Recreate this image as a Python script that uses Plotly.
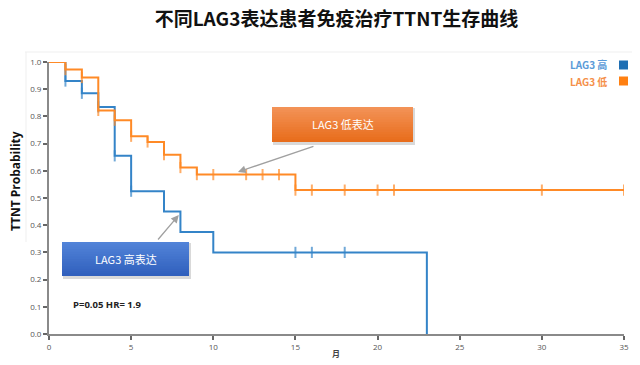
import plotly.graph_objects as go

# ---- data ----
months_high = [0, 1, 2, 3, 4, 5, 7, 8, 10, 15, 16, 18, 23]
surv_high = [1.0, 0.93, 0.885, 0.835, 0.655, 0.525, 0.45, 0.375, 0.30, 0.30, 0.30, 0.30, 0.0]
mark_high = [0, 1, 1, 1, 1, 1, 0, 0, 0, 1, 1, 1, 0]

months_low = [0, 1, 2, 3, 4, 5, 6, 7, 8, 9, 10, 12, 13, 14, 15, 16, 18, 20, 21, 30, 35]
surv_low = [1.0, 0.972, 0.943, 0.822, 0.786, 0.727, 0.706, 0.659, 0.612, 0.586, 0.586,
            0.586, 0.586, 0.586, 0.529, 0.529, 0.529, 0.529, 0.529, 0.529, 0.529]
mark_low = [0] + [1] * 20

x_ticks = [0, 5, 10, 15, 20, 25, 30, 35]
y_ticks = [0.0, 0.1, 0.2, 0.3, 0.4, 0.5, 0.6, 0.7, 0.8, 0.9, 1.0]

name_high = "LAG3 高"
name_low = "LAG3 低"
title_text = "不同LAG3表达患者免疫治疗TTNT生存曲线"
stat_text = "P=0.05 HR= 1.9"

BLUE = "#3484c8"
ORANGE = "#ff8a26"
FONT = "Noto Sans CJK SC"

fig = go.Figure()
for xs, ys, ms, col, nm in [(months_high, surv_high, mark_high, BLUE, name_high),
                             (months_low, surv_low, mark_low, ORANGE, name_low)]:
    fig.add_trace(go.Scatter(
        x=xs, y=ys, mode="lines+markers", name=nm, line_shape="hv",
        line=dict(color=col, width=2),
        marker=dict(symbol="line-ns-open", size=[8 if m else 0 for m in ms],
                    line=dict(color=col, width=2), color=col),
        hoverinfo="skip", showlegend=False))

# page offset (default body margin) compensation
OFF = 8
W, H = 640 - OFF, 365 - OFF
# plot area in screenshot pixels: x 49..624, y 62..334
SL, SR, ST, SB = 49, 624, 62, 334
PW, PH = SR - SL, SB - ST
def px(x):
    return (x - SL) / PW
def py(y):
    return (SB - y) / PH

shapes = []
annotations = []

def note(x, y, text, font, xanchor="center", yanchor="middle", **kw):
    annotations.append(dict(xref="paper", yref="paper", x=px(x), y=py(y), text=text,
                            showarrow=False, xanchor=xanchor, yanchor=yanchor,
                            font=font, **kw))

def hexmix(c1, c2, t):
    a = [int(c1[i:i + 2], 16) for i in (1, 3, 5)]
    b = [int(c2[i:i + 2], 16) for i in (1, 3, 5)]
    return "#%02x%02x%02x" % tuple(round(a[k] + (b[k] - a[k]) * t) for k in range(3))

def gradient_box(x0, y0, x1, y1, ctop, cbot, text):
    shapes.append(dict(type="rect", xref="paper", yref="paper",
                       x0=px(x0 + 1), x1=px(x1 + 2), y0=py(y1 + 3), y1=py(y0 + 1),
                       fillcolor="rgba(0,0,0,0.15)", line=dict(width=0), layer="above"))
    n = 14
    for i in range(n):
        ya = y0 + (y1 - y0) * i / n
        shapes.append(dict(type="rect", xref="paper", yref="paper",
                           x0=px(x0), x1=px(x1), y0=py(y1), y1=py(ya),
                           fillcolor=hexmix(ctop, cbot, i / (n - 1)),
                           line=dict(width=0), layer="above"))
    note((x0 + x1) / 2, (y0 + y1) / 2, text, dict(family=FONT, size=11, color="white"))

gradient_box(272, 107, 413, 142, "#f39256", "#e86d1c", "LAG3 低表达")
gradient_box(62, 242, 189, 276, "#5183d8", "#3160bd", "LAG3 高表达")

# arrows
annotations.append(dict(x=11.5, y=0.596, xref="x", yref="y", text="", showarrow=True,
                        ax=77, ay=-26, arrowhead=2, arrowsize=1.2, arrowwidth=1.3,
                        arrowcolor="#a0a0a0"))
annotations.append(dict(x=7.9, y=0.4375, xref="x", yref="y", text="", showarrow=True,
                        ax=-22, ay=26, arrowhead=2, arrowsize=1.2, arrowwidth=1.3,
                        arrowcolor="#a0a0a0"))

# stat text
note(71, 304, "<b>" + stat_text + "</b>", dict(family="Open Sans", size=9.5, color="#222"),
     xanchor="left")

# legend (custom, text left of square)
for nm, tc, sc, cy in [(name_high, "#5b9bd8", "#1f6fb3", 65), (name_low, "#f5904a", "#ff8012", 81)]:
    note(609, cy, "<b>" + nm + "</b>", dict(family=FONT, size=10, color=tc), xanchor="right")
    shapes.append(dict(type="rect", xref="paper", yref="paper",
                       x0=px(619), x1=px(628), y0=py(cy + 4.5), y1=py(cy - 4.5),
                       fillcolor=sc, line=dict(width=0)))

# axis titles
note(15, 181, "<b>TTNT Probability</b>", dict(family="Open Sans", size=12, color="#111"),
     textangle=-90)
note(336, 353, "<b>月</b>", dict(family=FONT, size=8, color="#444"))

# faint frame lines
shapes.append(dict(type="line", xref="paper", yref="paper", x0=px(25), x1=px(640),
                   y0=py(52), y1=py(52), line=dict(color="#efefef", width=1)))
shapes.append(dict(type="line", xref="paper", yref="paper", x0=px(26), x1=px(26),
                   y0=py(52), y1=py(242), line=dict(color="#efefef", width=1)))

fig.update_layout(
    width=W, height=H,
    margin=dict(l=SL - OFF, r=640 - SR, t=ST - OFF, b=365 - SB),
    paper_bgcolor="white", plot_bgcolor="white",
    title=dict(text="<b>" + title_text + "</b>", x=0.5, xanchor="center",
               y=1.0, yanchor="top", xref="paper", yref="container",
               pad=dict(t=5, b=0, l=0, r=0),
               font=dict(family=FONT, size=19, color="#111")),
    shapes=shapes, annotations=annotations,
    xaxis=dict(range=[0, 35], tickvals=x_ticks, ticktext=[str(v) for v in x_ticks],
               showgrid=False, zeroline=False, showline=True, linecolor="#8a8a8a",
               linewidth=2, ticks="outside", ticklen=4, tickwidth=1.5, tickcolor="#666",
               automargin=False,
               tickfont=dict(family="Open Sans", size=8, color="#555")),
    yaxis=dict(range=[0, 1.0], tickvals=y_ticks, ticktext=["%.1f" % v for v in y_ticks],
               showgrid=False, zeroline=False, showline=True, linecolor="#8a8a8a",
               linewidth=2, ticks="outside", ticklen=4, tickwidth=1.5, tickcolor="#666",
               automargin=False,
               tickfont=dict(family="Open Sans", size=8, color="#555")),
)
fig.write_html("out.html")
